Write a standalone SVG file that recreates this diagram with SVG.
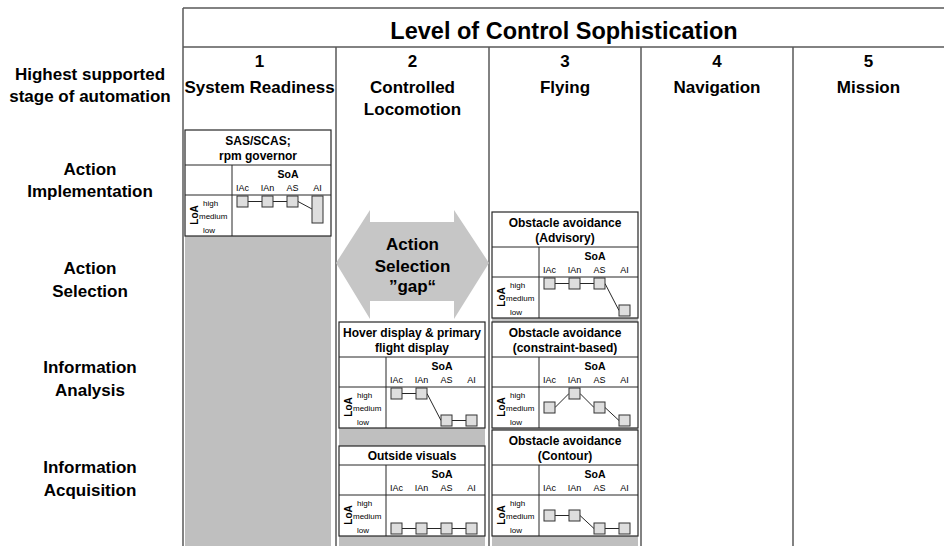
<svg xmlns="http://www.w3.org/2000/svg" xmlns:xlink="http://www.w3.org/1999/xlink" width="944" height="546" viewBox="0 0 944 546">
<style>
text{font-family:"Liberation Sans",Arial,sans-serif;fill:#000}
.hdr{font-weight:bold;font-size:17px;text-anchor:middle}
.ttl{font-weight:bold;font-size:23.5px;text-anchor:middle}
.mt{font-weight:bold;font-size:12px;text-anchor:middle}
.soa{font-weight:bold;font-size:10.5px;text-anchor:middle}
.lab{font-size:9px;text-anchor:middle}
.lv{font-size:8px}
.loa{font-weight:bold;font-size:10px;text-anchor:middle}
.grid{stroke:#595959;stroke-width:1.5;fill:none}
.box{fill:#fff;stroke:#262626;stroke-width:1.2}
.ln{stroke:#262626;stroke-width:1;fill:none}
.sq{fill:#dedede;stroke:#333;stroke-width:1}
.gray{fill:#bfbfbf}
.arrow{fill:#c6c6c6}
</style>
<defs>
<g id="frame">
<path class="ln" d="M0 0H146M47 0V71M0 30H146"/>
<text class="soa" x="103" y="13">SoA</text>
<text class="lab" y="26"><tspan x="57.5">IAc</tspan><tspan x="82.5">IAn</tspan><tspan x="107.5">AS</tspan><tspan x="132.5">AI</tspan></text>
<text class="loa" transform="translate(13,50) rotate(-90)">LoA</text>
<text class="lv" x="18" y="41">high</text>
<text class="lv" x="14" y="54">medium</text>
<text class="lv" x="18" y="68">low</text>
</g>
</defs>

<g id="background">
<rect class="gray" x="185" y="235" width="146" height="311"/>
<rect class="gray" x="339" y="322" width="146" height="224"/>
<rect class="gray" x="492" y="212" width="146" height="334"/>
</g>

<g id="grid">
<path class="grid" d="M183 8H944M183 47H944M183 8V546M336 47V546M489 47V546M641 47V546M793 47V546"/>
</g>

<g id="title">
<text class="ttl" x="564" y="39">Level of Control Sophistication</text>
</g>

<g id="columns">
<text class="hdr" x="259.5" y="67">1</text>
<text class="hdr" x="259.5" y="93">System Readiness</text>
<text class="hdr" x="412.5" y="67">2</text>
<text class="hdr" x="412.5" y="93">Controlled</text>
<text class="hdr" x="412.5" y="115">Locomotion</text>
<text class="hdr" x="565" y="67">3</text>
<text class="hdr" x="565" y="93">Flying</text>
<text class="hdr" x="717" y="67">4</text>
<text class="hdr" x="717" y="93">Navigation</text>
<text class="hdr" x="868.5" y="67">5</text>
<text class="hdr" x="868.5" y="93">Mission</text>
</g>

<g id="rows">
<text class="hdr" x="90" y="80">Highest supported</text>
<text class="hdr" x="90" y="102">stage of automation</text>
<text class="hdr" x="90" y="175">Action</text>
<text class="hdr" x="90" y="197">Implementation</text>
<text class="hdr" x="90" y="274">Action</text>
<text class="hdr" x="90" y="297">Selection</text>
<text class="hdr" x="90" y="373">Information</text>
<text class="hdr" x="90" y="396">Analysis</text>
<text class="hdr" x="90" y="473">Information</text>
<text class="hdr" x="90" y="496">Acquisition</text>
</g>

<g id="connectors">
<polygon class="arrow" points="336,263 370,210 370,222 454,222 454,210 489,263 454,319 454,301 370,301 370,319"/>
<text class="hdr" x="412.5" y="250">Action</text>
<text class="hdr" x="412.5" y="272">Selection</text>
<text class="hdr" x="412.5" y="292">”gap“</text>
</g>

<g id="sas" transform="translate(185,130)">
<rect class="box" width="146" height="106"/>
<text class="mt" x="73" y="15">SAS/SCAS;</text>
<text class="mt" x="73" y="30">rpm governor</text>
<use xlink:href="#frame" href="#frame" y="35"/>
<g transform="translate(0,65)">
<path class="ln" d="M63 6.5H77M88 6.5H102M113 6.5L127 14"/>
<rect class="sq" x="52" y="1" width="11" height="11"/>
<rect class="sq" x="77" y="1" width="11" height="11"/>
<rect class="sq" x="102" y="1" width="11" height="11"/>
<rect class="sq" x="127" y="1" width="11" height="27"/>
</g>
</g>

<g id="advisory" transform="translate(492,212)">
<rect class="box" width="146" height="106"/>
<text class="mt" x="73" y="15">Obstacle avoidance</text>
<text class="mt" x="73" y="30">(Advisory)</text>
<use xlink:href="#frame" href="#frame" y="35"/>
<g transform="translate(0,65)">
<path class="ln" d="M63 6.5H77M88 6.5H102M113 6.5L127 33.5"/>
<rect class="sq" x="52" y="1" width="11" height="11"/>
<rect class="sq" x="77" y="1" width="11" height="11"/>
<rect class="sq" x="102" y="1" width="11" height="11"/>
<rect class="sq" x="127" y="28" width="11" height="11"/>
</g>
</g>

<g id="hover" transform="translate(339,322)">
<rect class="box" width="146" height="106"/>
<text class="mt" x="73" y="15">Hover display &amp; primary</text>
<text class="mt" x="73" y="30">flight display</text>
<use xlink:href="#frame" href="#frame" y="35"/>
<g transform="translate(0,65)">
<path class="ln" d="M63 6.5H77M88 6.5L102 33.5M113 33.5H127"/>
<rect class="sq" x="52" y="1" width="11" height="11"/>
<rect class="sq" x="77" y="1" width="11" height="11"/>
<rect class="sq" x="102" y="28" width="11" height="11"/>
<rect class="sq" x="127" y="28" width="11" height="11"/>
</g>
</g>

<g id="constraint" transform="translate(492,322)">
<rect class="box" width="146" height="106"/>
<text class="mt" x="73" y="15">Obstacle avoidance</text>
<text class="mt" x="73" y="30">(constraint-based)</text>
<use xlink:href="#frame" href="#frame" y="35"/>
<g transform="translate(0,65)">
<path class="ln" d="M63 20.5L77 6.5M88 6.5L102 20.5M113 20.5L127 33.5"/>
<rect class="sq" x="52" y="15" width="11" height="11"/>
<rect class="sq" x="77" y="1" width="11" height="11"/>
<rect class="sq" x="102" y="15" width="11" height="11"/>
<rect class="sq" x="127" y="28" width="11" height="11"/>
</g>
</g>

<g id="contour" transform="translate(492,430)">
<rect class="box" width="146" height="106"/>
<text class="mt" x="73" y="15">Obstacle avoidance</text>
<text class="mt" x="73" y="30">(Contour)</text>
<use xlink:href="#frame" href="#frame" y="35"/>
<g transform="translate(0,65)">
<path class="ln" d="M63 20.5H77M88 20.5L102 33.5M113 33.5H127"/>
<rect class="sq" x="52" y="15" width="11" height="11"/>
<rect class="sq" x="77" y="15" width="11" height="11"/>
<rect class="sq" x="102" y="28" width="11" height="11"/>
<rect class="sq" x="127" y="28" width="11" height="11"/>
</g>
</g>

<g id="outside" transform="translate(339,446)">
<rect class="box" width="146" height="90"/>
<text class="mt" x="73" y="14">Outside visuals</text>
<use xlink:href="#frame" href="#frame" y="19"/>
<g transform="translate(0,49)">
<path class="ln" d="M63 33.5H77M88 33.5H102M113 33.5H127"/>
<rect class="sq" x="52" y="28" width="11" height="11"/>
<rect class="sq" x="77" y="28" width="11" height="11"/>
<rect class="sq" x="102" y="28" width="11" height="11"/>
<rect class="sq" x="127" y="28" width="11" height="11"/>
</g>
</g>
</svg>
